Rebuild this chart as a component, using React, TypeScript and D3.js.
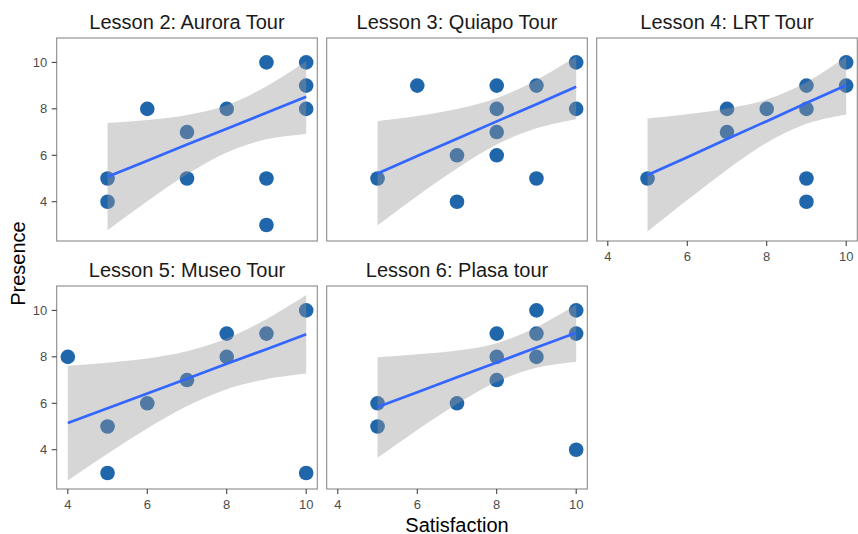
import * as d3 from "d3";

// facet titles
const lessons = [
  "Lesson 2: Aurora Tour",
  "Lesson 3: Quiapo Tour",
  "Lesson 4: LRT Tour",
  "Lesson 5: Museo Tour",
  "Lesson 6: Plasa tour",
];

// raw points (visible ones) per lesson
const satisfaction = [
  [5, 5, 6, 7, 7, 8, 9, 9, 9, 10, 10, 10],
  [5, 6, 7, 7, 8, 8, 8, 8, 9, 9, 10, 10],
  [5, 7, 7, 8, 9, 9, 9, 9, 10, 10],
  [4, 5, 5, 6, 7, 8, 8, 9, 10, 10],
  [5, 5, 7, 8, 8, 8, 9, 9, 9, 10, 10, 10],
];
const presence = [
  [5, 4, 8, 7, 5, 8, 10, 5, 3, 10, 9, 8],
  [5, 9, 6, 4, 9, 8, 7, 6, 9, 5, 10, 8],
  [5, 8, 7, 8, 9, 8, 5, 4, 10, 9],
  [8, 5, 3, 6, 7, 9, 8, 9, 10, 3],
  [6, 5, 6, 9, 8, 7, 10, 9, 8, 10, 9, 4],
];

// lm fit + 95% band
const smoothX = [
  [5, 6, 7, 8, 9, 10],
  [5, 6, 7, 8, 9, 10],
  [5, 6, 7, 8, 9, 10],
  [4, 5, 6, 7, 8, 9, 10],
  [5, 6, 7, 8, 9, 10],
];
const smoothFit = [
  [5.08, 5.77, 6.46, 7.14, 7.83, 8.52],
  [5.22, 5.97, 6.71, 7.46, 8.2, 8.95],
  [5.15, 5.92, 6.7, 7.47, 8.25, 9.02],
  [5.15, 5.79, 6.42, 7.06, 7.7, 8.33, 8.97],
  [5.84, 6.48, 7.12, 7.76, 8.4, 9.04],
];
const smoothLo = [
  [2.77, 4.02, 5.18, 6.12, 6.69, 6.92],
  [2.98, 4.25, 5.43, 6.46, 7.16, 7.55],
  [2.71, 4.07, 5.38, 6.54, 7.36, 7.76],
  [2.68, 3.83, 4.91, 5.88, 6.61, 7.04, 7.28],
  [3.65, 4.85, 5.97, 6.93, 7.53, 7.79],
];
const smoothHi = [
  [7.39, 7.52, 7.74, 8.16, 8.97, 10.05],
  [7.47, 7.69, 7.99, 8.46, 9.24, 10.25],
  [7.59, 7.77, 8.02, 8.4, 9.14, 10.24],
  [7.62, 7.75, 7.93, 8.24, 8.79, 9.62, 10.66],
  [7.98, 8.11, 8.27, 8.59, 9.27, 10.25],
];

const ticks = [4, 6, 8, 10];

const W = 858;
const H = 534;
const left = 56.7;
const panelW = 260.6;
const pitchX = 270;
const rowTops = [38, 286];
const panelH = 203;
const font = "'Liberation Sans', Arial, Helvetica, sans-serif";

const x = d3.scaleLinear().domain([3.72, 10.28]).range([0, panelW]);
const y = d3.scaleLinear().domain([2.31, 11.05]).range([panelH, 0]);

const Panel = ({ i }: { i: number }) => {
  const col = i % 3;
  const row = Math.floor(i / 3);
  const px = left + col * pitchX;
  const py = rowTops[row];
  const showY = col === 0;
  const showX = i >= 2;

  const xs = smoothX[i];
  const band = d3
    .area<number>()
    .x((_, k) => x(xs[k]))
    .y0((_, k) => y(smoothLo[i][k]))
    .y1((_, k) => y(smoothHi[i][k]))
    .curve(d3.curveCatmullRom);
  const fit = d3
    .line<number>()
    .x((_, k) => x(xs[k]))
    .y((d) => y(d));

  return (
    <g transform={`translate(${px},${py})`}>
      <text
        x={panelW / 2}
        y={-9}
        textAnchor="middle"
        fontSize={20}
        fill="#1a1a1a"
        fontFamily={font}
      >
        {lessons[i]}
      </text>
      {satisfaction[i].map((s, k) => (
        <circle key={k} cx={x(s)} cy={y(presence[i][k])} r={7.3} fill="#2066ab" />
      ))}
      <path d={band(xs) ?? ""} fill="#999999" fillOpacity={0.4} />
      <path d={fit(smoothFit[i]) ?? ""} fill="none" stroke="#3366FF" strokeWidth={2.7} />
      <rect x={0} y={0} width={panelW} height={panelH} fill="none" stroke="#8a8a8a" strokeWidth={1.1} />
      {showY &&
        ticks.map((t) => (
          <g key={t} transform={`translate(0,${y(t)})`}>
            <line x1={-5} x2={0} stroke="#333" strokeWidth={1} />
            <text
              x={-9.4}
              dy="0.35em"
              textAnchor="end"
              fontSize={13}
              fill="#4d4d4d"
              fontFamily={font}
            >
              {t}
            </text>
          </g>
        ))}
      {showX &&
        ticks.map((t) => (
          <g key={t} transform={`translate(${x(t)},${panelH})`}>
            <line y1={0} y2={5} stroke="#333" strokeWidth={1} />
            <text y={20} textAnchor="middle" fontSize={13} fill="#4d4d4d" fontFamily={font}>
              {t}
            </text>
          </g>
        ))}
    </g>
  );
};

export default function App() {
  return (
    <svg
      width={W}
      height={H}
      style={{ position: "absolute", left: 0, top: 0, background: "#fff" }}
    >
      {lessons.map((_, i) => (
        <Panel key={i} i={i} />
      ))}
      <text
        x={left + (pitchX * 2 + panelW) / 2}
        y={531.5}
        textAnchor="middle"
        fontSize={20}
        fill="#000"
        fontFamily={font}
      >
        Satisfaction
      </text>
      <text
        transform={`translate(24.5,${(rowTops[0] + rowTops[1] + panelH) / 2}) rotate(-90)`}
        textAnchor="middle"
        fontSize={20}
        fill="#000"
        fontFamily={font}
      >
        Presence
      </text>
    </svg>
  );
}
